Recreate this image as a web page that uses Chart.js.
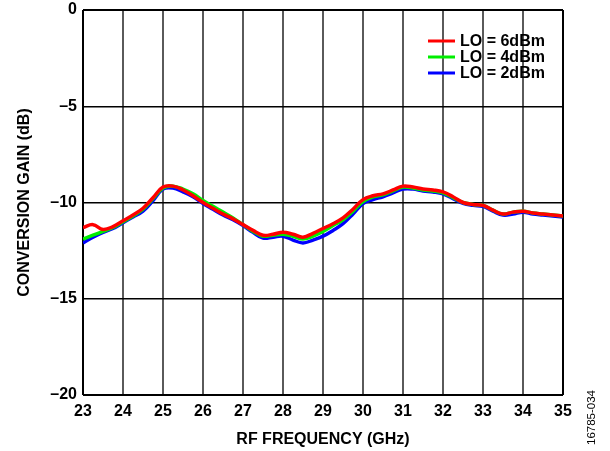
<!DOCTYPE html>
<html>
<head>
<meta charset="utf-8">
<script src="https://cdn.jsdelivr.net/npm/chart.js@4"></script>
<style>
  body { margin: 0; background: #fff; }
  #wrap { width: 610px; height: 451px; }
</style>
</head>
<body>
<div id="wrap"><canvas id="chart-gain" width="610" height="451"></canvas></div>
<script>
const freq = [23, 23.25, 23.5, 23.75, 24, 24.25, 24.5, 24.75, 25, 25.25, 25.5, 25.75, 26, 26.25, 26.5, 26.75,
  27, 27.25, 27.5, 27.75, 28, 28.25, 28.5, 28.75, 29, 29.25, 29.5, 29.75, 30, 30.25, 30.5, 30.75,
  31, 31.25, 31.5, 31.75, 32, 32.25, 32.5, 32.75, 33, 33.25, 33.5, 33.75, 34, 34.25, 34.5, 34.75, 35];

const lo6 = [-11.3, -11.15, -11.4, -11.25, -10.95, -10.65, -10.3, -9.75, -9.2, -9.15, -9.35, -9.65, -10.0, -10.3, -10.6, -10.85,
  -11.15, -11.45, -11.7, -11.65, -11.55, -11.65, -11.8, -11.6, -11.35, -11.1, -10.8, -10.35, -9.85, -9.65, -9.55, -9.35,
  -9.15, -9.2, -9.3, -9.35, -9.45, -9.7, -10.0, -10.1, -10.15, -10.4, -10.6, -10.5, -10.45, -10.55, -10.6, -10.65, -10.7];

const lo4 = [-11.9, -11.7, -11.5, -11.3, -11.0, -10.7, -10.35, -9.8, -9.25, -9.15, -9.3, -9.55, -9.9, -10.2, -10.5, -10.8,
  -11.15, -11.5, -11.75, -11.7, -11.65, -11.75, -11.9, -11.75, -11.5, -11.2, -10.9, -10.45, -9.95, -9.7, -9.6, -9.4,
  -9.2, -9.25, -9.35, -9.4, -9.5, -9.75, -10.0, -10.1, -10.15, -10.4, -10.6, -10.5, -10.45, -10.55, -10.6, -10.65, -10.7];

const lo2 = [-12.1, -11.8, -11.55, -11.35, -11.05, -10.75, -10.45, -9.9, -9.3, -9.25, -9.45, -9.7, -10.05, -10.35, -10.65, -10.9,
  -11.2, -11.55, -11.85, -11.8, -11.75, -11.95, -12.1, -11.95, -11.75, -11.45, -11.1, -10.6, -10.05, -9.85, -9.7, -9.5,
  -9.3, -9.3, -9.4, -9.45, -9.55, -9.8, -10.05, -10.15, -10.2, -10.45, -10.65, -10.6, -10.5, -10.6, -10.65, -10.7, -10.75];

const xTicks = [23, 24, 25, 26, 27, 28, 29, 30, 31, 32, 33, 34, 35];
const yTicks = [0, -5, -10, -15, -20];

const toPoints = (ys) => ys.map((y, i) => ({ x: freq[i], y }));

const family = '"Liberation Sans", Arial, sans-serif';
const font = { family, weight: 'bold', size: 16 };

// legend drawn inside plot, top right
const innerLegend = {
  id: 'innerLegend',
  afterDraw(chart) {
    const c = chart.ctx;
    c.save();
    c.font = 'bold 16px ' + family;
    c.textBaseline = 'middle';
    chart.data.datasets.forEach((ds, i) => {
      const y = 41 + i * 16;
      c.strokeStyle = ds.borderColor;
      c.lineWidth = 3;
      c.beginPath();
      c.moveTo(428, y);
      c.lineTo(455, y);
      c.stroke();
      c.fillStyle = '#000';
      c.fillText(ds.label, 460, y + 1);
    });
    // figure id on the right edge
    c.translate(595, 445);
    c.rotate(-Math.PI / 2);
    c.font = '11.5px ' + family;
    c.textBaseline = 'alphabetic';
    c.fillStyle = '#000';
    c.fillText('16785-034', 0, 0);
    c.restore();
  },
};

const chart = new Chart(document.getElementById('chart-gain'), {
  type: 'line',
  data: {
    datasets: [
      { label: 'LO = 6dBm', data: toPoints(lo6), borderColor: '#ff0000', borderWidth: 3.5, pointRadius: 0, tension: 0.4 },
      { label: 'LO = 4dBm', data: toPoints(lo4), borderColor: '#00ee00', borderWidth: 3.5, pointRadius: 0, tension: 0.4 },
      { label: 'LO = 2dBm', data: toPoints(lo2), borderColor: '#0000ff', borderWidth: 3.5, pointRadius: 0, tension: 0.4 },
    ],
  },
  options: {
    responsive: false,
    animation: false,
    layout: { padding: { left: 0, top: 10, right: 47, bottom: 0 } },
    plugins: { legend: { display: false }, tooltip: { enabled: false } },
    scales: {
      x: {
        type: 'linear',
        min: 23,
        max: 35,
        afterBuildTicks: (scale) => { scale.ticks = xTicks.map((v) => ({ value: v })); },
        afterFit: (scale) => {
          scale.height = 56;
          scale.paddingLeft = 0;
          scale.paddingRight = 0;
        },
        grid: {
          drawTicks: false,
          color: (ctx) => (ctx.tick && (ctx.tick.value === 23 || ctx.tick.value === 35) ? '#000' : '#5a5a5a'),
          lineWidth: 2,
        },
        border: { display: false },
        ticks: { color: '#000', font, padding: 7, maxRotation: 0 },
        title: { display: true, text: 'RF FREQUENCY (GHz)', color: '#000', font, padding: { top: 0, bottom: 2 } },
      },
      y: {
        min: -20,
        max: 0,
        afterBuildTicks: (scale) => { scale.ticks = yTicks.map((v) => ({ value: v })); },
        afterFit: (scale) => {
          scale.width = 83;
          scale.paddingTop = 0;
          scale.paddingBottom = 0;
        },
        grid: {
          drawTicks: false,
          color: '#000',
          lineWidth: (ctx) => (ctx.tick && (ctx.tick.value === 0 || ctx.tick.value === -20) ? 2 : 1.5),
        },
        border: { display: false },
        ticks: {
          color: '#000',
          font,
          padding: 6,
          callback: (v) => (v < 0 ? '\u2013' + Math.abs(v) : String(v)),
        },
        title: { display: true, text: 'CONVERSION GAIN (dB)', color: '#000', font, padding: { top: 15, bottom: 0 } },
      },
    },
  },
  plugins: [innerLegend],
});
</script>
</body>
</html>
